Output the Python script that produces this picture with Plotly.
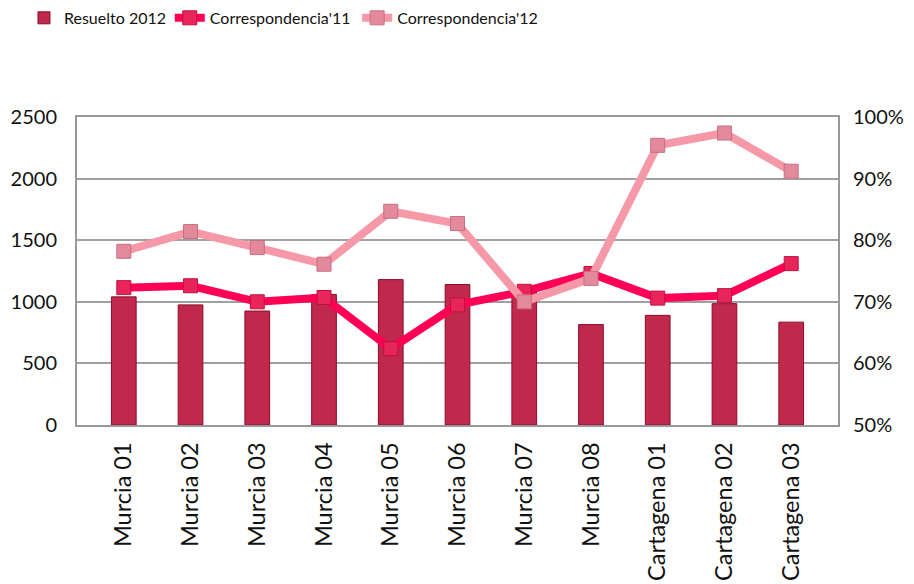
import plotly.graph_objects as go

categorias = ['Murcia 01', 'Murcia 02', 'Murcia 03', 'Murcia 04', 'Murcia 05',
              'Murcia 06', 'Murcia 07', 'Murcia 08', 'Cartagena 01',
              'Cartagena 02', 'Cartagena 03']
resuelto_2012 = [1040, 975, 925, 1060, 1180, 1140, 1110, 815, 890, 985, 835]
corresp_11 = [72.3, 72.6, 70.0, 70.7, 62.4, 69.5, 71.7, 74.6, 70.6, 71.0, 76.2]
corresp_12 = [78.2, 81.4, 78.8, 76.1, 84.7, 82.7, 70.0, 73.8, 95.4, 97.4, 91.2]

FONT = 'Lato'

fig = go.Figure()
fig.add_trace(go.Bar(
    x=categorias, y=resuelto_2012, name='Resuelto 2012', legend='legend',
    marker=dict(color='#c0284c', line=dict(color='#8a0c2a', width=1)),
    width=0.37,
))
fig.add_trace(go.Scatter(
    x=categorias, y=corresp_11, name="Correspondencia'11", yaxis='y2',
    legend='legend2', mode='lines+markers',
    line=dict(color='#ff0055', width=8),
    marker=dict(symbol='square', size=14, color='#e8255a',
                line=dict(color='#c0103f', width=1)),
))
fig.add_trace(go.Scatter(
    x=categorias, y=corresp_12, name="Correspondencia'12", yaxis='y2',
    legend='legend3', mode='lines+markers',
    line=dict(color='#f598a8', width=8),
    marker=dict(symbol='square', size=14, color='#e28a9c',
                line=dict(color='#c86d80', width=1)),
))

# one legend per series so each item sits where it does in the original
leg = dict(orientation='h', xref='container', yref='container', y=0.983,
           yanchor='middle', xanchor='left', font=dict(size=16), itemwidth=30,
           bgcolor='rgba(0,0,0,0)')

fig.update_layout(
    width=914, height=584,
    paper_bgcolor='white', plot_bgcolor='white',
    margin=dict(l=69, r=84, t=109, b=167),
    font=dict(family=FONT, size=20, color='#111111'),
    showlegend=True,
    legend=dict(leg, x=0.0175),
    legend2=dict(leg, x=0.177),
    legend3=dict(leg, x=0.382),
    xaxis=dict(tickangle=-90, showline=True, linecolor='#999999', linewidth=2,
               mirror=True, tickfont=dict(size=23.5), ticks='',
               ticklabelstandoff=6, automargin=False),
    yaxis=dict(range=[0, 2500], dtick=500, showgrid=True, gridcolor='#a0a0a0',
               gridwidth=2, showline=True, linecolor='#999999', linewidth=2,
               mirror=True, ticks='', zeroline=False, ticklabelstandoff=14,
               automargin=False),
    yaxis2=dict(range=[50, 100], dtick=10, overlaying='y', side='right',
                ticksuffix='%', showgrid=False, ticks='', zeroline=False,
                ticklabelstandoff=14, automargin=False),
    bargap=0.6,
)

fig.write_html('out.html')
